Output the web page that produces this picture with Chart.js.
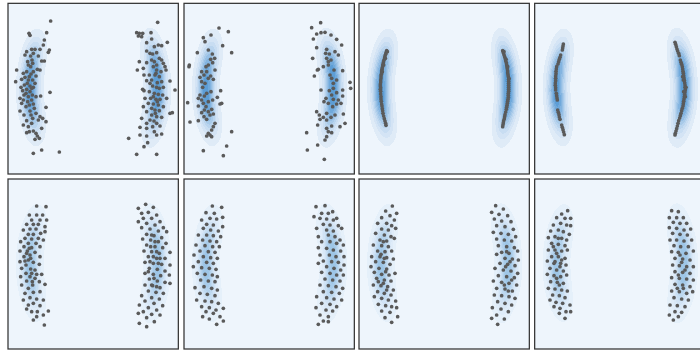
<!DOCTYPE html>
<html><head><meta charset="utf-8">
<script src="https://cdn.jsdelivr.net/npm/chart.js@4.4.1/dist/chart.umd.min.js"></script>
<style>
html,body{margin:0;padding:0;background:#ffffff;width:700px;height:350px;overflow:hidden;position:relative}
canvas{position:absolute}
</style></head><body>
<script>
// ---- sample points per panel, flat [x,y, x,y, ...] in each panel's own units ----
const samplesP1 = [
152,63, 140,98, 87,100, 90,106, 133,120, 130,135, 105,148, 95,148, 120,148, 80,155, 148,150, 145,157, 75,165, 100,160, 92,168, 115,168, 96,180, 125,183, 133,183, 83,185, 98,190, 92,200, 50,210, 85,195, 112,208, 120,210, 80,215, 70,220, 100,215, 93,222, 88,230, 75,232, 108,228, 65,238, 85,240, 98,240, 47,245, 82,250, 105,250, 73,255, 90,258, 63,262, 100,262, 95,265, 80,268, 68,272, 90,275, 78,280, 97,285, 72,285, 60,295, 85,290, 108,290, 122,288, 150,277, 70,300, 95,300, 83,305, 65,310, 100,312, 88,315, 78,320, 138,322, 103,325, 60,333, 90,333, 108,340, 72,345, 93,345, 120,350, 98,355, 128,355, 115,360, 138,365, 80,362, 70,375, 95,370, 85,380, 125,385, 88,395, 100,393, 80,398, 108,400, 112,408, 118,415, 105,418, 125,450, 100,460, 178,456,
473,67, 410,98, 418,100, 428,100, 453,98, 415,108, 425,110, 440,128, 455,117, 502,127, 475,135, 463,140, 485,137, 440,153, 450,160, 458,162, 470,158, 478,175, 485,180, 418,185, 440,188, 455,180, 463,185, 470,195, 490,190, 495,200, 498,210, 412,210, 430,205, 460,200, 470,210, 483,215, 468,220, 448,225, 465,225, 478,230, 432,225, 455,240, 485,245, 472,248, 450,250, 510,243, 440,242, 458,258, 470,262, 478,265, 490,262, 525,270, 428,268, 432,272, 448,275, 463,280, 475,283, 488,285, 460,290, 435,295, 452,295, 468,298, 480,298, 500,295, 472,305, 445,310, 460,312, 475,315, 430,320, 490,320, 455,325, 510,340, 517,338, 440,335, 465,330, 478,332, 466,340, 455,345, 470,350, 485,352, 425,355, 450,360, 462,363, 470,370, 440,370, 480,378, 420,382, 458,380, 440,385, 463,395, 470,405, 420,405, 485,402, 440,408, 386,415, 443,428, 432,440, 410,463, 470,463
];
const samplesP2 = [
117,84, 145,95, 93,105, 70,113, 75,125, 128,137, 85,150, 52,158, 155,158, 97,162, 104,175, 92,178, 28,195, 27,200, 98,188, 85,195, 78,200, 105,210, 65,215, 80,215, 72,225, 92,228, 60,232, 85,235, 100,238, 65,245, 75,250, 68,262, 122,272, 93,275, 80,280, 60,285, 73,288, 55,295, 65,300, 98,300, 112,292, 23,308, 85,305, 70,310, 125,310, 120,312, 55,318, 78,320, 95,328, 73,330, 85,335, 65,338, 100,342, 72,350, 90,345, 30,366, 55,362, 80,358, 105,370, 100,380, 95,390, 155,395, 85,400, 90,405, 80,408, 95,410, 140,438, 70,452, 130,467,
395,83, 422,68, 410,102, 423,98, 435,97, 453,105, 470,118, 400,117, 485,135, 410,143, 440,148, 465,155, 475,165, 437,160, 448,162, 440,175, 453,180, 445,185, 398,175, 445,195, 430,200, 415,208, 412,210, 488,212, 462,210, 450,225, 455,235, 403,228, 470,240, 460,250, 510,247, 512,265, 460,265, 423,270, 448,272, 488,270, 470,278, 455,285, 438,295, 460,298, 475,300, 488,288, 432,305, 445,310, 470,312, 458,320, 483,310, 410,335, 418,345, 440,340, 430,352, 465,345, 453,352, 440,360, 490,342, 420,358, 495,370, 480,380, 413,375, 455,378, 440,385, 445,395, 455,398, 380,398, 440,410, 435,420, 413,435, 382,450, 433,478
];
const samplesP3 = [
95,152, 93,158, 92,163, 90,168, 89,173, 88,178, 86,183, 85,188, 84,193, 83,198, 82,203, 81,208, 80,213, 80,218, 79,223, 78,228, 78,234, 77,240, 77,246, 76,252, 76,258, 77,263, 76,268, 77,274, 77,282, 78,290, 78,297, 79,304, 80,312, 81,318, 82,326, 83,332, 84,340, 86,348, 88,356, 90,363, 92,370, 93,376, 97,155, 91,175, 86,195, 82,215,
443,152, 445,158, 447,164, 449,170, 451,176, 452,182, 454,188, 455,194, 456,200, 457,206, 458,212, 458,218, 459,224, 460,230, 461,238, 461,244, 461,250, 461,256, 461,262, 461,268, 461,274, 460,280, 460,286, 460,292, 459,298, 458,304, 457,310, 456,316, 455,322, 454,328, 452,336, 450,344, 449,350, 448,356, 446,362, 445,368, 444,374, 443,380, 447,155, 453,178, 458,200, 462,235
];
const samplesP4 = [
100,132, 99,138, 98,144, 97,150, 92,165, 90,172, 88,178, 86,185, 84,192, 80,200, 79,207, 78,214, 78,221, 77,228, 77,235, 77,242, 76,249, 76,256, 77,263, 77,270, 79,280, 80,287, 81,294, 82,300, 83,330, 85,337, 87,344, 88,351, 90,358, 95,375, 97,382, 99,389, 101,396, 103,404,
435,127, 437,133, 439,140, 441,147, 443,153, 446,160, 448,167, 451,180, 453,187, 455,193, 457,200, 458,207, 459,214, 460,220, 461,227, 462,234, 463,241, 464,248, 465,255, 465,262, 466,269, 465,276, 464,283, 463,290, 462,297, 461,304, 460,311, 459,318, 457,325, 455,332, 453,340, 451,347, 449,354, 446,362, 444,370, 442,378, 440,386, 438,393, 436,400, 435,405, 460,240, 468,262, 461,275, 466,290, 458,230
];
const samplesP5 = [
110,93, 138,95, 88,120, 110,120, 128,120, 95,135, 120,135, 140,135, 80,148, 100,148, 115,148, 135,155, 70,165, 90,162, 108,162, 122,175, 85,178, 100,178, 135,170, 75,190, 95,192, 115,190, 62,200, 85,205, 130,195, 108,205, 72,215, 95,218, 120,215, 88,220, 60,228, 82,228, 105,232, 80,235, 90,240, 72,245, 120,245, 92,250, 60,260, 85,255, 100,262, 75,258, 78,270, 118,268, 65,280, 92,282, 105,285, 78,295, 95,295, 110,298, 125,298, 62,305, 90,305, 105,310, 80,318, 97,320, 118,320, 98,330, 65,330, 85,340, 135,328, 75,355, 100,352, 120,350, 90,368, 110,372, 70,375, 130,375, 100,385, 85,390, 120,392, 95,410, 145,408, 112,410, 80,402, 110,425, 130,420, 100,435, 133,450,
437,88, 415,100, 460,97, 425,115, 445,112, 470,120, 430,130, 455,130, 415,140, 480,140, 440,145, 465,150, 490,158, 425,158, 450,162, 475,168, 500,170, 440,178, 455,180, 462,182, 485,188, 428,192, 452,195, 475,200, 465,200, 498,205, 440,210, 452,215, 465,215, 488,218, 432,228, 455,230, 470,230, 478,235, 510,232, 445,245, 460,245, 470,250, 480,250, 495,250, 450,260, 435,262, 460,265, 475,265, 485,268, 510,270, 448,280, 472,283, 445,290, 495,288, 435,295, 460,298, 482,302, 508,300, 462,310, 448,312, 472,318, 495,322, 435,330, 455,330, 458,332, 470,335, 480,338, 510,325, 445,348, 468,352, 490,355, 425,362, 455,368, 478,372, 435,378, 462,385, 488,392, 418,390, 445,398, 470,405, 430,410, 455,418, 480,420, 415,415, 440,428, 463,440, 418,445, 440,455
];
const samplesP6 = [
97,93, 125,97, 78,113, 103,115, 128,127, 65,135, 90,130, 110,132, 80,148, 100,150, 128,155, 70,160, 92,165, 115,168, 55,180, 80,180, 100,182, 122,185, 68,195, 90,198, 110,200, 48,210, 75,212, 98,215, 118,215, 60,228, 85,230, 105,232, 42,240, 70,245, 92,248, 112,250, 55,260, 80,262, 100,265, 40,275, 65,278, 88,280, 108,283, 52,295, 75,298, 97,300, 112,305, 62,315, 85,318, 105,320, 45,338, 72,335, 95,340, 112,345, 60,355, 82,358, 105,362, 50,375, 75,378, 95,380, 115,385, 65,395, 88,398, 108,405, 130,400, 78,410, 100,415, 68,425, 120,425, 88,432, 110,448, 130,438,
408,95, 435,92, 425,115, 445,115, 458,110, 402,125, 420,130, 440,132, 460,135, 470,130, 430,148, 450,150, 475,152, 410,160, 440,165, 460,168, 485,160, 415,185, 445,180, 465,185, 480,195, 425,200, 450,200, 470,205, 490,210, 415,218, 440,220, 460,225, 482,228, 420,240, 448,240, 468,245, 492,245, 430,258, 455,260, 475,262, 415,265, 492,270, 440,275, 462,280, 482,285, 425,292, 450,295, 470,300, 490,300, 435,312, 458,315, 480,318, 420,330, 445,332, 468,335, 488,340, 430,350, 455,352, 478,355, 410,365, 440,368, 462,372, 485,375, 425,385, 450,388, 470,395, 408,398, 438,405, 458,408, 420,420, 445,425, 430,438, 445,440, 415,448
];
const samplesP7 = [
112,93, 92,108, 125,115, 80,128, 105,122, 118,135, 68,145, 95,145, 110,152, 122,160, 80,162, 100,165, 62,175, 88,180, 108,185, 75,195, 95,198, 118,190, 85,200, 55,210, 80,212, 100,215, 68,228, 90,230, 110,228, 78,238, 50,245, 75,245, 95,248, 115,252, 88,250, 62,260, 85,262, 105,268, 48,275, 72,280, 95,282, 92,290, 58,292, 80,298, 102,300, 120,295, 65,310, 88,315, 108,318, 70,320, 85,325, 55,330, 78,332, 98,335, 95,345, 115,345, 68,350, 88,355, 108,360, 58,365, 80,370, 100,375, 122,378, 70,388, 92,392, 110,395, 80,408, 105,412, 125,398, 90,428, 110,442, 128,425,
422,92, 445,102, 410,112, 432,118, 458,122, 418,132, 440,138, 468,140, 425,152, 450,155, 475,163, 415,172, 438,175, 460,178, 482,185, 425,192, 448,195, 470,198, 430,212, 455,215, 478,218, 488,228, 455,230, 440,232, 462,235, 425,238, 450,250, 472,252, 490,255, 465,260, 435,265, 458,268, 480,272, 452,275, 420,280, 445,285, 468,288, 488,295, 430,302, 455,305, 478,308, 470,315, 415,318, 440,322, 462,325, 448,330, 485,330, 425,340, 450,342, 472,348, 460,348, 418,360, 440,362, 462,365, 480,370, 428,380, 450,385, 470,390, 412,398, 438,402, 460,410, 425,420, 448,432, 410,430, 428,448
];
const samplesP8 = [
113,107, 95,117, 80,128, 105,130, 122,130, 70,150, 92,145, 110,150, 122,152, 62,168, 85,165, 100,170, 118,178, 55,188, 75,185, 85,190, 95,190, 110,195, 65,205, 85,208, 105,212, 70,215, 55,225, 75,225, 95,228, 112,225, 80,235, 65,245, 85,245, 105,250, 95,255, 52,258, 75,260, 72,265, 92,265, 108,270, 90,275, 60,280, 80,285, 100,288, 52,298, 72,302, 92,305, 110,300, 80,310, 62,320, 82,322, 100,325, 88,330, 55,340, 75,342, 95,345, 112,348, 68,360, 88,362, 105,368, 60,375, 78,382, 98,385, 120,390, 72,395, 90,400, 108,410, 88,415, 122,410, 105,430,
425,107, 445,110, 418,128, 440,128, 460,128, 430,142, 450,145, 470,145, 418,158, 440,160, 462,165, 482,162, 428,175, 450,178, 472,180, 420,195, 440,195, 462,198, 485,195, 432,212, 452,215, 475,215, 490,228, 425,230, 445,232, 468,235, 450,240, 435,250, 458,252, 480,255, 455,262, 428,270, 448,272, 470,275, 490,275, 465,285, 435,290, 458,292, 480,295, 445,300, 425,308, 448,310, 470,312, 490,315, 435,328, 458,330, 480,335, 442,340, 460,340, 425,348, 448,350, 470,355, 488,350, 432,368, 455,372, 475,375, 420,390, 442,392, 465,395, 435,410, 455,412, 418,420, 445,425, 430,435
];

// ---- density ridges (shared by all panels), in units relative to each panel's origin ----
const ridgeLeftX  = [90, 83, 78, 74, 70, 68, 66, 65, 64, 64, 65, 66, 68, 70, 73, 76, 81, 87];
const ridgeLeftY  = [118,142,158,173,188,203,220,236,250,264,278,292,306,320,334,348,364,388];
const ridgeRightX = [424,431,436,440,443,445,447,448,449,449,449,448,446,443,440,437,432,425];
const ridgeRightY = [116,142,157,172,186,200,215,230,246,262,277,292,306,320,334,348,368,392];
const ridgeWeights = [0.5,0.68,0.8,0.9,0.95,1,1,1,1,1,1,1,0.95,0.9,0.8,0.7,0.6,0.45];
const contourLevels = [0.05,0.156,0.261,0.367,0.472,0.578,0.683,0.789,0.894];
const contourColors = ['#dfebf7','#d4e4f5','#c8ddf2','#b9d4ee','#a8cae9','#96bfe5','#83b4e0','#70a9db','#5d9ed6'];

// ---- panel layout (crop origin in figure px, axis ranges) ----
const panelSamples = [samplesP1,samplesP2,samplesP3,samplesP4,samplesP5,samplesP6,samplesP7,samplesP8];
const panelOrigins = [[0,0],[180,0],[355,0],[530,0],[0,175],[180,175],[355,175],[530,175]];
const panelXRange  = [[24,535],[12,523],[12,523],[14,525],[24,535],[12,523],[12,523],[14,525]];
const panelYRange  = [[10,522],[10,522],[10,522],[10,522],[12,522],[12,522],[12,522],[12,522]];
const panelAlpha   = [1,1,1,1,0.55,0.55,0.55,0.55];

const BG = '#eef5fc';
const SX = 17, SY = 30;

function toPoints(flat){ const out=[]; for(let i=0;i+1<flat.length;i+=2) out.push({x:flat[i],y:flat[i+1]}); return out; }

const densityPlugin = {
  id: 'density',
  beforeDatasetsDraw(chart, args, opts) {
    const {ctx, chartArea:a, scales:{x, y}} = chart;
    ctx.save();
    ctx.fillStyle = BG;
    ctx.fillRect(a.left, a.top, a.right-a.left, a.bottom-a.top);
    ctx.beginPath(); ctx.rect(a.left, a.top, a.right-a.left, a.bottom-a.top); ctx.clip();
    const x0 = Math.floor(a.left), x1 = Math.ceil(a.right), y0 = Math.floor(a.top), y1 = Math.ceil(a.bottom);
    const W = x1-x0, H = y1-y0;
    const rx = new Float32Array(W), ry = new Float32Array(H);
    for (let i=0;i<W;i++) rx[i] = x.getValueForPixel(x0+i+0.5) - x.min;
    for (let j=0;j<H;j++) ry[j] = y.getValueForPixel(y0+j+0.5) - y.min;
    const ridges = [[ridgeLeftX, ridgeLeftY],[ridgeRightX, ridgeRightY]];
    const total = new Float32Array(W*H);
    ridges.forEach(([RX, RY]) => {
      const f = new Float32Array(W*H); let m = 0;
      for (let j=0;j<H;j++) for (let i=0;i<W;i++) {
        let s = 0;
        for (let k=0;k<RX.length;k++) {
          const dx = (rx[i]-RX[k])/SX, dy = (ry[j]-RY[k])/SY;
          const q = dx*dx+dy*dy; if (q < 30) s += ridgeWeights[k]*Math.exp(-0.5*q);
        }
        f[j*W+i] = s; if (s>m) m = s;
      }
      for (let n=0;n<W*H;n++) total[n] = Math.max(total[n], f[n]/m);
    });
    ctx.globalAlpha = opts.alpha;
    const lvl = v => { let L = 0; while (L < contourLevels.length && v >= contourLevels[L]) L++; return L; };
    for (let j=0;j<H;j++) {
      let i = 0;
      while (i < W) {
        const L = lvl(total[j*W+i]);
        let k = i+1;
        while (k < W && lvl(total[j*W+k]) === L) k++;
        if (L > 0) { ctx.fillStyle = contourColors[L-1]; ctx.fillRect(x0+i, y0+j, k-i, 1); }
        i = k;
      }
    }
    ctx.restore();
  },
  afterDatasetsDraw(chart) {
    const {ctx, chartArea:a} = chart;
    ctx.save();
    ctx.strokeStyle = '#333333'; ctx.lineWidth = 1.25;
    ctx.strokeRect(a.left, a.top, a.right-a.left, a.bottom-a.top);
    ctx.restore();
  }
};

const SIZE = 182;
panelSamples.forEach((pts, p) => {
  const [ox, oy] = panelOrigins[p];
  const xr = panelXRange[p], yr = panelYRange[p];
  const fx = ox + xr[0]/3, fy = oy + yr[0]/3, fw = (xr[1]-xr[0])/3, fh = (yr[1]-yr[0])/3;
  const L = Math.floor(fx) - 5, T = Math.floor(fy) - 5;
  const c = document.createElement('canvas');
  c.width = SIZE; c.height = SIZE;
  c.style.left = L+'px'; c.style.top = T+'px'; c.style.width = SIZE+'px'; c.style.height = SIZE+'px';
  document.body.appendChild(c);
  const pl = fx - L, pt = fy - T;
  new Chart(c, {
    type: 'scatter',
    data: { datasets: [{ data: toPoints(pts), pointRadius: 1.85, pointHoverRadius: 1.85, backgroundColor: '#5a5a5a', borderWidth: 0 }] },
    options: {
      responsive: false, animation: false, devicePixelRatio: 1,
      layout: { padding: { left: pl, top: pt, right: SIZE - pl - fw, bottom: SIZE - pt - fh } },
      plugins: { legend: {display:false}, tooltip: {enabled:false}, density: { alpha: panelAlpha[p] } },
      scales: {
        x: { type:'linear', min: xr[0], max: xr[1], display: false },
        y: { type:'linear', min: yr[0], max: yr[1], reverse: true, display: false }
      }
    },
    plugins: [densityPlugin]
  });
});
</script>
</body></html>
